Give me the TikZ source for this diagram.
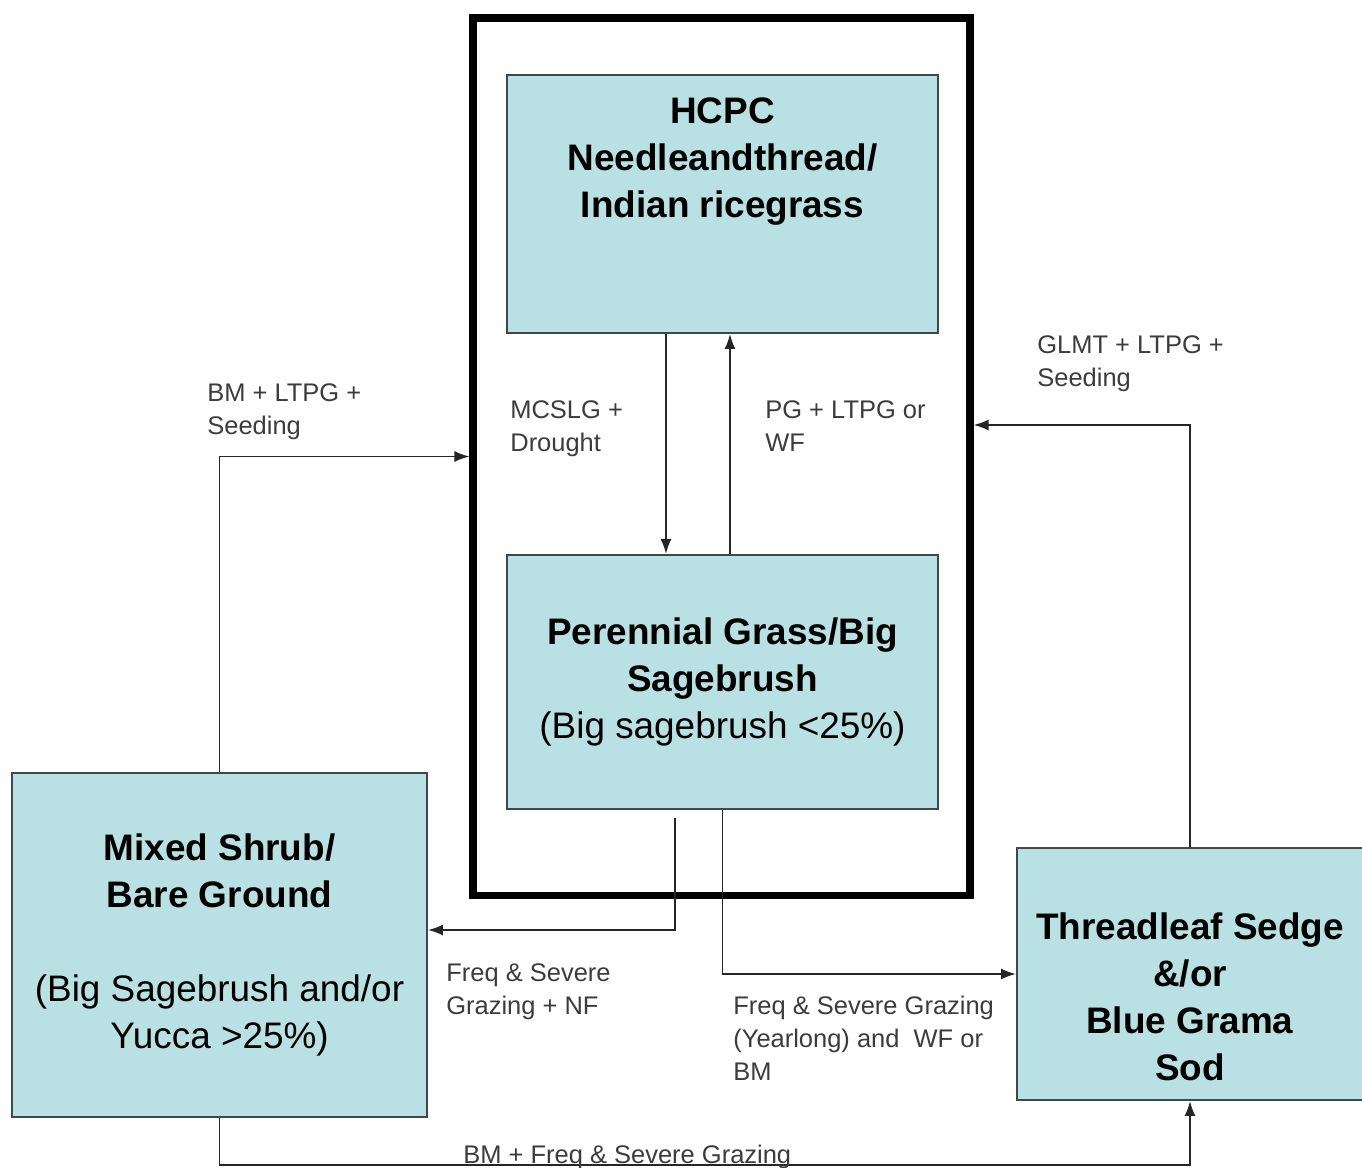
\documentclass[tikz,border=0pt]{standalone}
\usepackage{fontspec}
\setmainfont{Liberation Sans}
\usepackage{tikz}
\usetikzlibrary{positioning,arrows.meta,calc}
\usepackage{xcolor}
\definecolor{statefill}{RGB}{185,224,226}
\definecolor{stateedge}{RGB}{62,74,74}
\definecolor{labelgray}{RGB}{60,60,60}
\tikzset{line/.style={draw=black!85, line width=1pt, -{Latex[length=3mm,width=2.2mm]}}
}

\begin{document}
\begin{tikzpicture}
\tikzstyle{statetext} = [align=center, font=\fontsize{21}{26.7}\selectfont]
\tikzstyle{state} = [rectangle, draw=stateedge, line width=1.1pt, fill=statefill, statetext]
\tikzstyle{trans} = [align=left, anchor=north west, inner sep=0pt, text=labelgray, font=\fontsize{14.5}{18.8}\selectfont]

\useasboundingbox (0,0) rectangle (27.24,-23.34);

\node [state, minimum width=8.62cm, minimum height=5.16cm,
label={[statetext, yshift=0.85cm]center:{\textbf{HCPC}\\\textbf{Needleandthread/}\\\textbf{Indian ricegrass}}}] (hcpc) at (14.45,-4.08) {};
\node [state, below=4.4cm of hcpc, minimum width=8.62cm, minimum height=5.08cm] (pgs) {\textbf{Perennial Grass/Big}\\\textbf{Sagebrush}\\(Big sagebrush <25\%)};
\node [draw, line width=4pt, minimum width=9.94cm, minimum height=17.54cm] (H) at (14.43,-9.13) {}; % outer frame round both states

\node [state, minimum width=8.3cm, minimum height=6.88cm] (mixed) at (4.39,-18.9) {\textbf{Mixed Shrub/}\\\textbf{Bare Ground}\\[26.7pt](Big Sagebrush and/or\\Yucca >25\%)};
\node [state, minimum width=6.92cm, minimum height=5.04cm,
label={[statetext, yshift=-0.46cm]center:{\textbf{Threadleaf Sedge}\\\textbf{\&/or}\\\textbf{Blue Grama}\\\textbf{Sod}}}] (thread) at (23.8,-19.48) {};

%Lines
\draw [line] (mixed.north) |- (H.west);
\draw [line] ([xshift=-1.13cm]hcpc.south) -- ([xshift=-1.13cm]pgs.north);
\draw [line] ([xshift=0.15cm]pgs.north) -- ([xshift=0.15cm]hcpc.south);
\draw [line] (thread.north) |- ([yshift=0.63cm]H.east);
\draw [line] ([xshift=-0.95cm,yshift=-0.16cm]pgs.south) |- ([yshift=0.3cm]mixed.east);
\draw [line] (pgs.south) |- (thread.west);
\draw [line] (mixed.south) -- ++(0,-0.94) -| (thread.south);

%Labels
\node [trans] (t1) at (4.14,-7.67) {BM + LTPG +\\Seeding};
\node [trans] (t2) at (10.2,-8.0) {MCSLG +\\Drought};
\node [trans] (t3) at (15.3,-8.0) {PG + LTPG or\\WF};
\node [trans] (t4) at (20.74,-6.7) {GLMT + LTPG +\\Seeding};
\node [trans] (t5) at (8.92,-19.26) {Freq \& Severe\\Grazing + NF};
\node [trans] (t6) at (14.66,-19.92) {Freq \& Severe Grazing\\(Yearlong) and\ \ WF or\\BM};
\node [trans] (t7) at (9.26,-22.9) {BM + Freq \& Severe Grazing};
\end{tikzpicture}
\end{document}
